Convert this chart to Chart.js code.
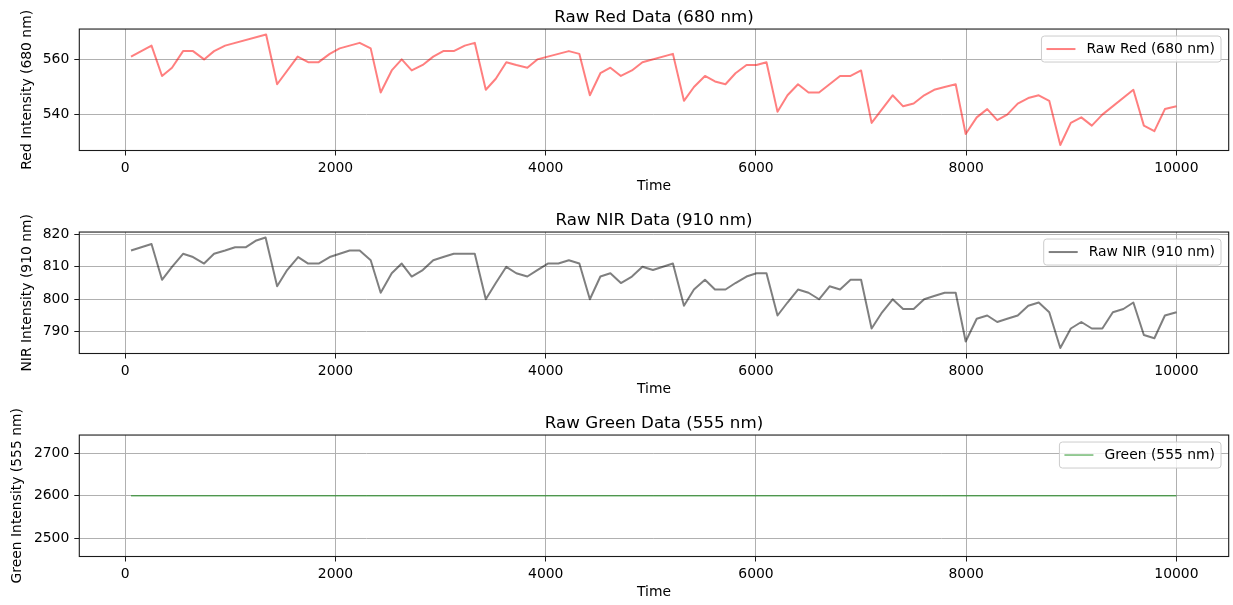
<!DOCTYPE html>
<html>
<head>
<meta charset="utf-8">
<script src="https://cdn.jsdelivr.net/npm/chart.js@4.4.1/dist/chart.umd.min.js"></script>
<style>
  html, body { margin: 0; padding: 0; background: #ffffff; }
  body { width: 1233px; height: 605px; position: relative; overflow: hidden; }
  canvas { position: absolute; left: 0; }
</style>
</head>
<body>
<canvas id="redChart" width="1233" height="199" style="top:0px;width:1233px;height:199px"></canvas>
<canvas id="nirChart" width="1233" height="199" style="top:203px;width:1233px;height:199px"></canvas>
<canvas id="greenChart" width="1233" height="199" style="top:406px;width:1233px;height:199px"></canvas>
<script>
// Raw red channel (680 nm) samples
const redTime = [55, 250, 350, 445, 550, 645, 750, 845, 950, 1340, 1445, 1640, 1740, 1840, 1945, 2040, 2230, 2335,
  2430, 2535, 2630, 2725, 2830, 2930, 3025, 3125, 3230, 3325, 3430, 3525, 3625, 3720, 3825, 3920, 4020, 4120, 4220,
  4320, 4420, 4520, 4615, 4715, 4820, 4920, 5210, 5315, 5410, 5515, 5610, 5710, 5805, 5910, 6005, 6100, 6205, 6300,
  6400, 6500, 6600, 6700, 6800, 6900, 7000, 7100, 7200, 7300, 7400, 7500, 7600, 7695, 7795, 7900, 7995, 8100, 8200,
  8295, 8390, 8490, 8590, 8690, 8790, 8895, 8995, 9095, 9195, 9295, 9590, 9690, 9790, 9890, 10000];
const redValues = [561, 565, 554, 557, 563, 563, 560, 563, 565, 569, 551, 561, 559, 559, 562, 564, 566, 564,
  548, 556, 560, 556, 558, 561, 563, 563, 565, 566, 549, 553, 559, 558, 557, 560, 561, 562, 563,
  562, 547, 555, 557, 554, 556, 559, 562, 545, 550, 554, 552, 551, 555, 558, 558, 559, 541, 547,
  551, 548, 548, 551, 554, 554, 556, 537, 542, 547, 543, 544, 547, 549, 550, 551, 533, 539, 542,
  538, 540, 544, 546, 547, 545, 529, 537, 539, 536, 540, 549, 536, 534, 542, 543];

// Raw near-infrared channel (910 nm) samples
const nirTime = [55, 250, 350, 445, 550, 645, 750, 845, 950, 1045, 1145, 1240, 1335, 1445, 1540, 1645, 1740, 1840,
  1945, 2040, 2135, 2230, 2335, 2430, 2535, 2630, 2725, 2830, 2930, 3025, 3125, 3325, 3430, 3525, 3625, 3720, 3825,
  3920, 4020, 4120, 4220, 4320, 4420, 4520, 4615, 4715, 4820, 4920, 5020, 5210, 5315, 5410, 5515, 5610, 5710, 5805,
  5910, 6005, 6100, 6205, 6300, 6400, 6500, 6600, 6700, 6800, 6900, 7000, 7100, 7200, 7300, 7400, 7500, 7600, 7695,
  7795, 7900, 7995, 8100, 8200, 8295, 8390, 8490, 8590, 8690, 8790, 8895, 8995, 9095, 9195, 9295, 9395, 9495, 9590,
  9690, 9790, 9890, 10000];
const nirValues = [815, 817, 806, 810, 814, 813, 811, 814, 815, 816, 816, 818, 819, 804, 809, 813, 811, 811,
  813, 814, 815, 815, 812, 802, 808, 811, 807, 809, 812, 813, 814, 814, 800, 805, 810, 808, 807,
  809, 811, 811, 812, 811, 800, 807, 808, 805, 807, 810, 809, 811, 798, 803, 806, 803, 803, 805,
  807, 808, 808, 795, 799, 803, 802, 800, 804, 803, 806, 806, 791, 796, 800, 797, 797, 800, 801,
  802, 802, 787, 794, 795, 793, 794, 795, 798, 799, 796, 785, 791, 793, 791, 791, 796, 797, 799,
  789, 788, 795, 796];

// Green channel (555 nm) is flat over the run
const greenTime = [55, 10000];
const greenValues = [2600, 2600];

// Tick positions
const timeTicks = [0, 2000, 4000, 6000, 8000, 10000];
const redTicks = [540, 560];
const nirTicks = [790, 800, 810, 820];
const greenTicks = [2500, 2600, 2700];

const FONT = 'DejaVu Sans';
Chart.defaults.font.family = FONT;
Chart.defaults.color = '#000000';

function points(xs, ys) {
  return xs.map((x, i) => ({ x: x, y: ys[i] }));
}

function fixedTicks(values) {
  return function (scale) {
    scale.ticks = values.map((v) => ({ value: v }));
  };
}

// Full frame around the plotting area
const framePlugin = {
  id: 'frame',
  afterDraw(chart) {
    const a = chart.chartArea, ctx = chart.ctx;
    ctx.save();
    ctx.strokeStyle = '#1a1a1a';
    ctx.lineWidth = 1.1;
    ctx.strokeRect(a.left, a.top, a.right - a.left, a.bottom - a.top);
    ctx.restore();
  }
};

// Boxed legend in the upper-right corner of the plotting area
const boxLegendPlugin = {
  id: 'boxLegend',
  afterDraw(chart) {
    const a = chart.chartArea, ctx = chart.ctx;
    const ds = chart.data.datasets[0];
    ctx.save();
    ctx.font = '13.9px "' + FONT + '"';
    const tw = ctx.measureText(ds.label).width;
    const padL = 5, handle = 29, gap = 11, padR = 6, h = 26;
    const w = padL + handle + gap + tw + padR;
    const right = a.right - 7.7, top = a.top + 7;
    const left = right - w;
    const r = 3;
    ctx.beginPath();
    ctx.moveTo(left + r, top);
    ctx.lineTo(right - r, top);
    ctx.quadraticCurveTo(right, top, right, top + r);
    ctx.lineTo(right, top + h - r);
    ctx.quadraticCurveTo(right, top + h, right - r, top + h);
    ctx.lineTo(left + r, top + h);
    ctx.quadraticCurveTo(left, top + h, left, top + h - r);
    ctx.lineTo(left, top + r);
    ctx.quadraticCurveTo(left, top, left + r, top);
    ctx.closePath();
    ctx.fillStyle = 'rgba(255,255,255,0.8)';
    ctx.fill();
    ctx.strokeStyle = '#cccccc';
    ctx.lineWidth = 1;
    ctx.stroke();
    const cy = top + h / 2;
    ctx.beginPath();
    ctx.moveTo(left + padL, cy);
    ctx.lineTo(left + padL + handle, cy);
    ctx.strokeStyle = ds.borderColor;
    ctx.lineWidth = ds.borderWidth;
    ctx.stroke();
    ctx.fillStyle = '#000000';
    ctx.textBaseline = 'middle';
    ctx.textAlign = 'left';
    ctx.fillText(ds.label, left + padL + handle + gap, cy + 0.5);
    ctx.restore();
  }
};

function makeChart(id, cfg) {
  return new Chart(document.getElementById(id), {
    type: 'line',
    data: {
      datasets: [{
        label: cfg.label,
        data: points(cfg.xs, cfg.ys),
        borderColor: cfg.color,
        borderWidth: cfg.width,
        pointRadius: 0,
        pointHoverRadius: 0,
        tension: 0,
        fill: false,
        borderJoinStyle: 'round'
      }]
    },
    options: {
      responsive: false,
      animation: false,
      devicePixelRatio: 1,
      events: [],
      layout: { padding: { left: 0, right: 4.3, top: 0, bottom: 0 } },
      plugins: {
        legend: { display: false },
        tooltip: { enabled: false },
        title: {
          display: true,
          text: cfg.title,
          fullSize: false,
          color: '#000000',
          font: { family: FONT, size: 16.7, weight: 'normal', lineHeight: 1.2 },
          padding: { top: 7.5, bottom: 1.5 }
        }
      },
      scales: {
        x: {
          type: 'linear',
          min: -437,
          max: 10497,
          afterBuildTicks: fixedTicks(timeTicks),
          afterFit(scale) { scale.height = 48.5; },
          border: { display: false },
          grid: { color: '#b0b0b0', lineWidth: 1, tickLength: 5, tickColor: '#1a1a1a', tickWidth: 1 },
          ticks: {
            autoSkip: false,
            maxRotation: 0,
            padding: 5,
            color: '#000000',
            font: { family: FONT, size: 13.9 },
            callback: (v) => String(v)
          },
          title: {
            display: true,
            text: 'Time',
            color: '#000000',
            font: { family: FONT, size: 13.9, lineHeight: 1.2 },
            padding: { top: 0, bottom: 4 }
          }
        },
        y: {
          type: 'linear',
          min: cfg.yMin,
          max: cfg.yMax,
          afterBuildTicks: fixedTicks(cfg.yTicks),
          afterFit(scale) { scale.width = 79.3; },
          border: { display: false },
          grid: { color: '#b0b0b0', lineWidth: 1, tickLength: 5, tickColor: '#1a1a1a', tickWidth: 1 },
          ticks: {
            autoSkip: false,
            padding: 5,
            color: '#000000',
            font: { family: FONT, size: 13.9 },
            callback: (v) => String(v)
          },
          title: {
            display: true,
            text: cfg.yTitle,
            color: '#000000',
            font: { family: FONT, size: 13.9, lineHeight: 1.2 },
            padding: { top: cfg.yTitlePad, bottom: 0 }
          }
        }
      }
    },
    plugins: [framePlugin, boxLegendPlugin]
  });
}

makeChart('redChart', {
  title: 'Raw Red Data (680 nm)', label: 'Raw Red (680 nm)',
  xs: redTime, ys: redValues, color: 'rgba(255,0,0,0.5)', width: 2,
  yMin: 527, yMax: 571, yTicks: redTicks,
  yTitle: 'Red Intensity (680 nm)', yTitlePad: 18.7
});

makeChart('nirChart', {
  title: 'Raw NIR Data (910 nm)', label: 'Raw NIR (910 nm)',
  xs: nirTime, ys: nirValues, color: 'rgba(0,0,0,0.5)', width: 2,
  yMin: 783.3, yMax: 820.7, yTicks: nirTicks,
  yTitle: 'NIR Intensity (910 nm)', yTitlePad: 18.7
});

makeChart('greenChart', {
  title: 'Raw Green Data (555 nm)', label: 'Green (555 nm)',
  xs: greenTime, ys: greenValues, color: 'rgba(0,128,0,0.55)', width: 1.5,
  yMin: 2457, yMax: 2743, yTicks: greenTicks,
  yTitle: 'Green Intensity (555 nm)', yTitlePad: 9.5
});
</script>
</body>
</html>
